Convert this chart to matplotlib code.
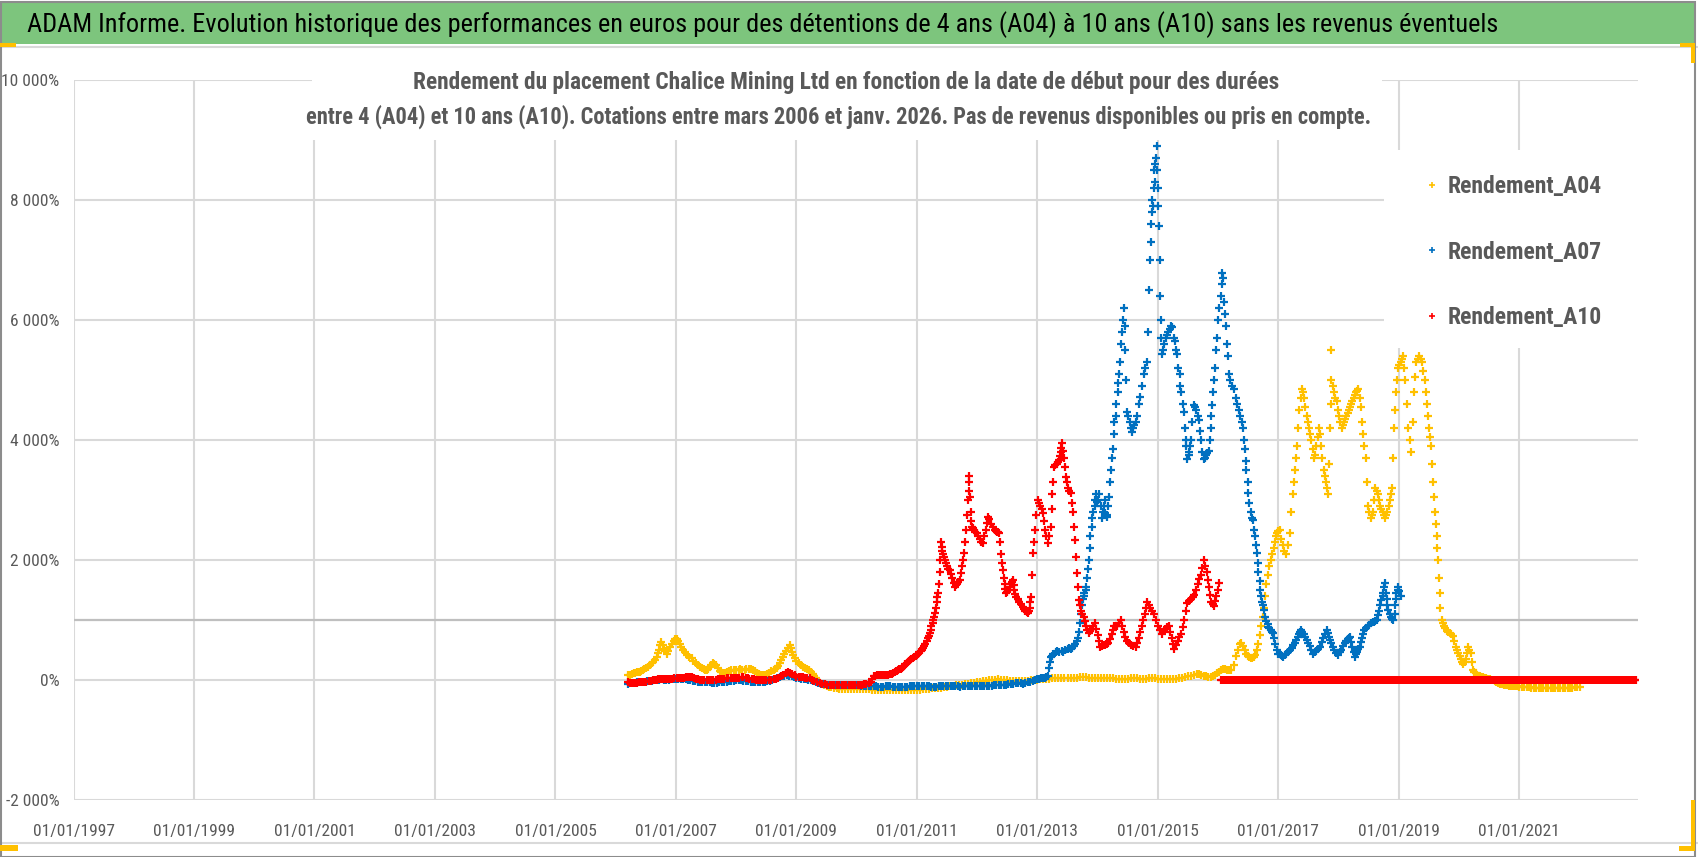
import numpy as np
import matplotlib.pyplot as plt
from matplotlib import font_manager
from matplotlib.patches import Rectangle
from matplotlib.ticker import FuncFormatter

# ---------------- data ----------------
a04_years = [2006.20, 2006.24, 2006.30, 2006.35, 2006.40, 2006.45, 2006.50, 2006.57, 2006.62, 2006.68,
             2006.72, 2006.76, 2006.80, 2006.85, 2006.90, 2006.96, 2007.01, 2007.06, 2007.12, 2007.19,
             2007.26, 2007.33, 2007.40, 2007.46, 2007.51, 2007.57, 2007.62, 2007.67, 2007.73, 2007.78,
             2007.85, 2007.92, 2008.00, 2008.07, 2008.14, 2008.21, 2008.28, 2008.35, 2008.42, 2008.48,
             2008.55, 2008.62, 2008.67, 2008.73, 2008.78, 2008.83, 2008.89, 2008.93, 2008.97, 2009.04,
             2009.11, 2009.18, 2009.25, 2009.30, 2009.35, 2009.42, 2009.50, 2009.58, 2009.67, 2009.75,
             2009.85, 2009.95, 2010.05, 2010.15, 2010.25, 2010.35, 2010.45, 2010.55, 2010.65, 2010.75,
             2010.85, 2010.95, 2011.05, 2011.15, 2011.25, 2011.35, 2011.45, 2011.55, 2011.65, 2011.75,
             2011.85, 2011.95, 2012.05, 2012.15, 2012.25, 2012.35, 2012.45, 2012.55, 2012.65, 2012.75,
             2012.85, 2012.95, 2013.05, 2013.15, 2013.25, 2013.35, 2013.45, 2013.55, 2013.65, 2013.75,
             2013.85, 2013.95, 2014.05, 2014.15, 2014.25, 2014.35, 2014.45, 2014.55, 2014.65, 2014.75,
             2014.85, 2014.95, 2015.05, 2015.15, 2015.25, 2015.35, 2015.45, 2015.55, 2015.65, 2015.72,
             2015.80, 2015.88, 2015.95, 2016.02, 2016.08, 2016.15, 2016.22, 2016.30, 2016.36, 2016.41,
             2016.47, 2016.52, 2016.57, 2016.62, 2016.67, 2016.72, 2016.76, 2016.80, 2016.85, 2016.89,
             2016.94, 2016.98, 2017.03, 2017.08, 2017.13, 2017.19, 2017.24, 2017.28, 2017.31, 2017.35,
             2017.39, 2017.43, 2017.47, 2017.51, 2017.55, 2017.59, 2017.63, 2017.67, 2017.71, 2017.75,
             2017.79, 2017.83, 2017.86, 2017.88, 2017.92, 2017.97, 2018.01, 2018.05, 2018.09, 2018.13,
             2018.17, 2018.21, 2018.25, 2018.29, 2018.33, 2018.37, 2018.41, 2018.45, 2018.49, 2018.53,
             2018.57, 2018.61, 2018.65, 2018.69, 2018.73, 2018.77, 2018.81, 2018.85, 2018.89, 2018.92,
             2018.95, 2018.99, 2019.03, 2019.07, 2019.11, 2019.16, 2019.21, 2019.25, 2019.29, 2019.33,
             2019.38, 2019.43, 2019.47, 2019.50, 2019.54, 2019.57, 2019.60, 2019.63, 2019.65, 2019.68,
             2019.71, 2019.75, 2019.80, 2019.85, 2019.90, 2019.95, 2019.99, 2020.03, 2020.07, 2020.11,
             2020.15, 2020.19, 2020.23, 2020.28, 2020.33, 2020.37, 2020.42, 2020.47, 2020.52, 2020.56,
             2020.62, 2020.68, 2020.74, 2020.80, 2020.86, 2020.92, 2021.00, 2021.08, 2021.16, 2021.24,
             2021.32, 2021.40, 2021.48, 2021.56, 2021.64, 2021.72, 2021.80, 2021.88, 2021.96, 2022.00]
a04_values = [80, 83, 110, 130, 140, 170, 200, 250, 300, 390,
              500, 640, 520, 440, 550, 650, 690, 600, 500, 420,
              360, 280, 220, 180, 170, 220, 280, 250, 150, 110,
              140, 160, 170, 180, 170, 190, 170, 120, 90, 80,
              120, 170, 200, 280, 380, 480, 580, 470, 360, 280,
              220, 180, 140, 60, 0, -60, -100, -120, -140, -150,
              -150, -150, -150, -155, -160, -160, -160, -165, -165, -167,
              -167, -167, -160, -150, -140, -130, -120, -100, -90, -80,
              -60, -50, -30, -10, 0, 10, 0, -10, -20, -20,
              -10, 0, 10, 20, 30, 40, 30, 30, 40, 50,
              40, 30, 30, 40, 30, 20, 20, 30, 30, 20,
              30, 30, 20, 10, 20, 30, 50, 70, 100, 90,
              60, 50, 80, 140, 190, 170, 160, 400, 600, 560,
              440, 380, 360, 420, 600, 900, 1200, 1600, 1900, 2100,
              2300, 2450, 2500, 2250, 2100, 2450, 3100, 3500, 3900, 4500,
              4850, 4700, 4400, 4200, 4000, 3700, 3900, 4200, 3900, 3500,
              3300, 3100, 4200, 5000, 4800, 4650, 4400, 4200, 4300, 4400,
              4500, 4600, 4700, 4800, 4850, 4550, 4100, 3700, 2900, 2700,
              2800, 3200, 3100, 2900, 2800, 2700, 2800, 3000, 3200, 4200,
              4800, 5200, 5300, 5400, 5000, 4200, 3800, 4800, 5300, 5400,
              5300, 5000, 4600, 4200, 3900, 3300, 2800, 2400, 2000, 1450,
              1000, 900, 820, 780, 740, 550, 450, 350, 260, 350,
              550, 450, 170, 110, 70, 50, 40, 20, 10, 0,
              -30, -60, -80, -90, -100, -105, -110, -115, -120, -130,
              -135, -140, -140, -140, -140, -135, -130, -125, -120, -115]
# second reading pass (points between the first ones)
a04_years_2 = [2006.27, 2006.32, 2006.37, 2006.42, 2006.47, 2006.53, 2006.60, 2006.65, 2006.70, 2006.74,
               2006.78, 2006.82, 2006.87, 2006.93, 2006.98, 2007.03, 2007.09, 2007.15, 2007.22, 2007.29,
               2007.36, 2007.43, 2007.48, 2007.54, 2007.59, 2007.64, 2007.70, 2007.75, 2007.81, 2007.88,
               2007.96, 2008.04, 2008.10, 2008.17, 2008.24, 2008.31, 2008.38, 2008.45, 2008.51, 2008.58,
               2008.65, 2008.70, 2008.75, 2008.80, 2008.86, 2008.91, 2008.95, 2009.00, 2009.07, 2009.14,
               2009.21, 2009.28, 2009.32, 2009.38, 2009.46, 2009.54, 2009.62, 2009.71, 2009.80, 2009.90,
               2010.00, 2010.10, 2010.20, 2010.30, 2010.40, 2010.50, 2010.60, 2010.70, 2010.80, 2010.90,
               2011.00, 2011.10, 2011.20, 2011.30, 2011.40, 2011.50, 2011.60, 2011.70, 2011.80, 2011.90,
               2012.00, 2012.10, 2012.20, 2012.30, 2012.40, 2012.50, 2012.60, 2012.70, 2012.80, 2012.90,
               2013.00, 2013.10, 2013.20, 2013.30, 2013.40, 2013.50, 2013.60, 2013.70, 2013.80, 2013.90,
               2014.00, 2014.10, 2014.20, 2014.30, 2014.40, 2014.50, 2014.60, 2014.70, 2014.80, 2014.90,
               2015.00, 2015.10, 2015.20, 2015.30, 2015.40, 2015.50, 2015.60, 2015.68, 2015.76, 2015.84,
               2015.91, 2015.98, 2016.05, 2016.12, 2016.18, 2016.26, 2016.33, 2016.38, 2016.44, 2016.49,
               2016.55, 2016.60, 2016.64, 2016.70, 2016.74, 2016.78, 2016.82, 2016.87, 2016.92, 2016.96,
               2017.00, 2017.05, 2017.10, 2017.16, 2017.21, 2017.26, 2017.30, 2017.33, 2017.37, 2017.41,
               2017.45, 2017.49, 2017.53, 2017.57, 2017.61, 2017.65, 2017.69, 2017.73, 2017.77, 2017.81,
               2017.84, 2017.87, 2017.87, 2017.90, 2017.94, 2017.99, 2018.03, 2018.07, 2018.11, 2018.15,
               2018.19, 2018.23, 2018.27, 2018.31, 2018.35, 2018.39, 2018.43, 2018.47, 2018.51, 2018.55,
               2018.59, 2018.63, 2018.67, 2018.71, 2018.75, 2018.79, 2018.83, 2018.87, 2018.90, 2018.94,
               2018.97, 2019.01, 2019.05, 2019.09, 2019.13, 2019.18, 2019.23, 2019.27, 2019.31, 2019.36,
               2019.40, 2019.45, 2019.48, 2019.52, 2019.55, 2019.58, 2019.61, 2019.64, 2019.66, 2019.69,
               2019.73, 2019.77, 2019.82, 2019.87, 2019.92, 2019.97, 2020.01, 2020.05, 2020.09, 2020.13,
               2020.17, 2020.21, 2020.25, 2020.30, 2020.35, 2020.40, 2020.45, 2020.50, 2020.54, 2020.59,
               2020.65, 2020.71, 2020.77, 2020.83, 2020.89, 2020.96, 2021.04, 2021.12, 2021.20, 2021.28,
               2021.36, 2021.44, 2021.52, 2021.60, 2021.68, 2021.76, 2021.84, 2021.92]
a04_values_2 = [95, 120, 135, 155, 185, 220, 280, 340, 450, 580,
                580, 480, 480, 600, 680, 650, 550, 460, 390, 320,
                250, 200, 175, 190, 250, 270, 200, 130, 120, 150,
                165, 175, 175, 180, 180, 145, 105, 85, 100, 145,
                185, 240, 330, 430, 530, 530, 410, 320, 250, 200,
                160, 100, 30, -30, -80, -110, -130, -145, -150, -150,
                -150, -152, -158, -160, -160, -162, -165, -166, -167, -167,
                -163, -155, -145, -135, -125, -110, -95, -85, -70, -55,
                -40, -20, -5, 5, 5, -5, -15, -20, -15, -5,
                5, 15, 25, 35, 35, 30, 35, 45, 45, 35,
                30, 35, 35, 25, 20, 25, 30, 25, 25, 30,
                25, 15, 15, 25, 40, 60, 85, 95, 75, 55,
                65, 110, 170, 180, 165, 250, 500, 620, 500, 400,
                370, 380, 500, 750, 1050, 1400, 1750, 2000, 2200, 2400,
                2480, 2350, 2150, 2250, 2800, 3300, 3700, 4200, 4700, 4800,
                4550, 4300, 4100, 3850, 3750, 4050, 4100, 3700, 3400, 3200,
                3600, 4600, 5500, 4900, 4700, 4500, 4300, 4250, 4350, 4450,
                4550, 4650, 4750, 4820, 4700, 4300, 3900, 3300, 2800, 2750,
                3000, 3150, 3000, 2850, 2750, 2750, 2900, 3100, 3700, 4500,
                5000, 5250, 5350, 5200, 4600, 4000, 4300, 5050, 5350, 5350,
                5150, 4800, 4400, 4050, 3600, 3050, 2600, 2200, 1700, 1200,
                950, 860, 800, 760, 650, 500, 400, 300, 300, 450,
                500, 300, 140, 90, 60, 45, 30, 15, 5, -15,
                -45, -70, -85, -95, -102, -108, -112, -118, -125, -132,
                -138, -140, -140, -140, -138, -132, -128, -122]

a07_years = [2006.20, 2006.28, 2006.36, 2006.44, 2006.52, 2006.60, 2006.68, 2006.76, 2006.84, 2006.92,
             2007.00, 2007.08, 2007.16, 2007.24, 2007.32, 2007.40, 2007.48, 2007.56, 2007.64, 2007.72,
             2007.80, 2007.88, 2007.96, 2008.04, 2008.12, 2008.20, 2008.28, 2008.36, 2008.44, 2008.52,
             2008.60, 2008.68, 2008.76, 2008.84, 2008.92, 2009.00, 2009.08, 2009.16, 2009.24, 2009.32,
             2009.40, 2009.48, 2009.56, 2009.64, 2009.72, 2009.80, 2009.88, 2009.96, 2010.04, 2010.12,
             2010.20, 2010.28, 2010.36, 2010.44, 2010.52, 2010.60, 2010.68, 2010.76, 2010.84, 2010.92,
             2011.00, 2011.08, 2011.16, 2011.24, 2011.32, 2011.40, 2011.48, 2011.56, 2011.64, 2011.72,
             2011.80, 2011.88, 2011.96, 2012.04, 2012.12, 2012.20, 2012.28, 2012.36, 2012.44, 2012.52,
             2012.60, 2012.68, 2012.76, 2012.84, 2012.92, 2013.00, 2013.06, 2013.12, 2013.18, 2013.22,
             2013.26, 2013.31, 2013.36, 2013.41, 2013.46, 2013.51, 2013.56, 2013.61, 2013.65, 2013.69,
             2013.72, 2013.75, 2013.78, 2013.81, 2013.84, 2013.87, 2013.90, 2013.93, 2013.96, 2013.99,
             2014.03, 2014.07, 2014.10, 2014.13, 2014.16, 2014.19, 2014.22, 2014.25, 2014.28, 2014.31,
             2014.34, 2014.37, 2014.40, 2014.43, 2014.46, 2014.49, 2014.53, 2014.57, 2014.61, 2014.66,
             2014.71, 2014.77, 2014.82, 2014.86, 2014.88, 2014.91, 2014.93, 2014.96, 2014.98, 2015.00,
             2015.02, 2015.04, 2015.07, 2015.11, 2015.15, 2015.20, 2015.24, 2015.28, 2015.32, 2015.36,
             2015.39, 2015.43, 2015.46, 2015.49, 2015.52, 2015.55, 2015.60, 2015.64, 2015.68, 2015.72,
             2015.76, 2015.80, 2015.85, 2015.88, 2015.90, 2015.93, 2015.96, 2016.00, 2016.04, 2016.07,
             2016.10, 2016.13, 2016.16, 2016.20, 2016.26, 2016.32, 2016.37, 2016.41, 2016.44, 2016.47,
             2016.50, 2016.54, 2016.58, 2016.61, 2016.64, 2016.67, 2016.70, 2016.73, 2016.76, 2016.80,
             2016.83, 2016.87, 2016.91, 2016.95, 2017.00, 2017.04, 2017.08, 2017.13, 2017.19, 2017.24,
             2017.30, 2017.34, 2017.38, 2017.42, 2017.47, 2017.52, 2017.58, 2017.63, 2017.69, 2017.74,
             2017.80, 2017.84, 2017.88, 2017.93, 2017.99, 2018.04, 2018.10, 2018.15, 2018.19, 2018.23,
             2018.27, 2018.31, 2018.35, 2018.39, 2018.43, 2018.48, 2018.54, 2018.59, 2018.63, 2018.67,
             2018.71, 2018.74, 2018.77, 2018.80, 2018.82, 2018.87, 2018.91, 2018.94, 2018.96, 2018.99,
             2019.03]
a07_values = [-60, -50, -40, -30, -20, -10, 0, 10, 0, 10,
              20, 10, 10, 0, -20, -30, -30, -40, -50, -40,
              -30, -20, -10, 0, -10, -20, -30, -40, -30, -20,
              0, 30, 60, 80, 60, 40, 20, 10, 0, -30,
              -60, -70, -80, -85, -90, -90, -90, -90, -90, -95,
              -100, -105, -110, -110, -105, -110, -115, -110, -110, -105,
              -100, -100, -105, -110, -110, -100, -95, -100, -105, -110,
              -100, -100, -95, -100, -100, -95, -90, -85, -80, -70,
              -60, -50, -60, -40, -10, 10, 30, 40, 60, 380,
              430, 460, 470, 490, 500, 510, 520, 560, 650, 800,
              1100, 1350, 1450, 1550, 1850, 2200, 2550, 2800, 3000, 2970,
              3100, 2700, 2900, 2780, 2714, 3050, 3500, 3850, 4300, 4600,
              4950, 5300, 5800, 6200, 5500, 4460, 4300, 4140, 4250, 4400,
              4720, 5100, 5300, 6500, 7300, 7800, 8200, 8600, 8900, 8200,
              7560, 6400, 5430, 5600, 5750, 5850, 5880, 5650, 5430, 5100,
              4800, 4460, 4000, 3685, 3800, 4000, 4590, 4500, 4330, 4000,
              3685, 3750, 3814, 4200, 4590, 5000, 5496, 6000, 6400, 6790,
              6300, 5900, 5400, 5000, 4850, 4600, 4400, 4200, 3850, 3500,
              3110, 2800, 2670, 2400, 2110, 1800, 1500, 1300, 1170, 980,
              890, 830, 780, 600, 440, 420, 390, 430, 500, 580,
              670, 760, 830, 760, 670, 560, 440, 480, 556, 700,
              833, 720, 611, 500, 417, 500, 611, 680, 722, 550,
              389, 470, 556, 700, 833, 900, 944, 970, 1000, 1150,
              1333, 1450, 1611, 1350, 1167, 1050, 1000, 1250, 1444, 1556,
              1400]
a07_years_2 = [2006.24, 2006.32, 2006.40, 2006.48, 2006.56, 2006.64, 2006.72, 2006.80, 2006.88, 2006.96,
               2007.04, 2007.12, 2007.20, 2007.28, 2007.36, 2007.44, 2007.52, 2007.60, 2007.68, 2007.76,
               2007.84, 2007.92, 2008.00, 2008.08, 2008.16, 2008.24, 2008.32, 2008.40, 2008.48, 2008.56,
               2008.64, 2008.72, 2008.80, 2008.88, 2008.96, 2009.04, 2009.12, 2009.20, 2009.28, 2009.36,
               2009.44, 2009.52, 2009.60, 2009.68, 2009.76, 2009.84, 2009.92, 2010.00, 2010.08, 2010.16,
               2010.24, 2010.32, 2010.40, 2010.48, 2010.56, 2010.64, 2010.72, 2010.80, 2010.88, 2010.96,
               2011.04, 2011.12, 2011.20, 2011.28, 2011.36, 2011.44, 2011.52, 2011.60, 2011.68, 2011.76,
               2011.84, 2011.92, 2012.00, 2012.08, 2012.16, 2012.24, 2012.32, 2012.40, 2012.48, 2012.56,
               2012.64, 2012.72, 2012.80, 2012.88, 2012.96, 2013.03, 2013.09, 2013.15, 2013.20, 2013.21,
               2013.24, 2013.33, 2013.43, 2013.53, 2013.58, 2013.63, 2013.67, 2013.70, 2013.74, 2013.77,
               2013.80, 2013.83, 2013.86, 2013.88, 2013.91, 2013.95, 2013.97, 2014.01, 2014.05, 2014.09,
               2014.12, 2014.15, 2014.18, 2014.21, 2014.24, 2014.27, 2014.30, 2014.33, 2014.36, 2014.39,
               2014.42, 2014.45, 2014.47, 2014.51, 2014.55, 2014.59, 2014.63, 2014.68, 2014.74, 2014.79,
               2014.84, 2014.87, 2014.89, 2014.90, 2014.92, 2014.94, 2014.95, 2014.97, 2014.99, 2015.01,
               2015.03, 2015.05, 2015.06, 2015.09, 2015.13, 2015.17, 2015.22, 2015.26, 2015.30, 2015.34,
               2015.37, 2015.41, 2015.45, 2015.47, 2015.51, 2015.53, 2015.57, 2015.62, 2015.66, 2015.70,
               2015.74, 2015.78, 2015.82, 2015.87, 2015.89, 2015.92, 2015.95, 2015.98, 2016.02, 2016.06,
               2016.08, 2016.11, 2016.15, 2016.18, 2016.23, 2016.29, 2016.35, 2016.39, 2016.43, 2016.46,
               2016.49, 2016.52, 2016.56, 2016.60, 2016.63, 2016.66, 2016.69, 2016.72, 2016.75, 2016.78,
               2016.82, 2016.85, 2016.89, 2016.93, 2016.98, 2017.02, 2017.06, 2017.11, 2017.16, 2017.22,
               2017.27, 2017.32, 2017.36, 2017.40, 2017.45, 2017.50, 2017.55, 2017.61, 2017.66, 2017.72,
               2017.77, 2017.82, 2017.86, 2017.91, 2017.96, 2018.02, 2018.07, 2018.12, 2018.17, 2018.21,
               2018.25, 2018.29, 2018.33, 2018.37, 2018.41, 2018.46, 2018.51, 2018.57, 2018.61, 2018.65,
               2018.69, 2018.73, 2018.76, 2018.79, 2018.81, 2018.85, 2018.89, 2018.93, 2018.95, 2018.98,
               2019.01]
a07_values_2 = [-55, -45, -35, -25, -15, -5, 5, 5, 5, 15,
                15, 10, 5, -10, -25, -30, -35, -45, -45, -35,
                -25, -15, -5, -5, -15, -25, -35, -35, -25, -10,
                15, 45, 70, 70, 50, 30, 15, 5, -15, -45,
                -65, -75, -82, -88, -90, -90, -90, -90, -92, -97,
                -102, -108, -110, -108, -107, -112, -112, -110, -107, -102,
                -100, -102, -108, -110, -105, -97, -97, -102, -107, -105,
                -100, -97, -97, -100, -97, -92, -87, -82, -75, -65,
                -55, -55, -50, -25, 0, 20, 35, 50, 200, 300,
                400, 480, 470, 530, 540, 600, 700, 950, 1250, 1400,
                1500, 1700, 2000, 2400, 2700, 2900, 3100, 3000, 2900, 2800,
                3000, 2750, 2900, 3300, 3700, 4100, 4400, 4800, 5100, 5600,
                6000, 5900, 5000, 4400, 4200, 4200, 4300, 4600, 4900, 5200,
                5800, 7000, 7600, 8000, 7900, 8500, 8300, 8700, 8500, 7900,
                7000, 6000, 5700, 5500, 5700, 5800, 5900, 5700, 5500, 5200,
                4900, 4600, 4200, 3900, 3750, 3900, 4300, 4550, 4400, 4150,
                3800, 3700, 3780, 4000, 4400, 4800, 5200, 5700, 6200, 6600,
                6700, 6100, 5600, 5100, 4900, 4700, 4500, 4300, 4000, 3650,
                3300, 2950, 2700, 2500, 2250, 1950, 1650, 1400, 1250, 1050,
                930, 860, 800, 700, 500, 430, 400, 410, 460, 540,
                620, 720, 800, 800, 720, 610, 500, 460, 520, 630,
                770, 780, 660, 550, 450, 460, 560, 650, 700, 640,
                470, 430, 510, 630, 770, 870, 920, 960, 990, 1080,
                1250, 1400, 1550, 1450, 1250, 1100, 1020, 1100, 1350, 1500,
                1480]

a10_years = [2006.20, 2006.26, 2006.32, 2006.38, 2006.45, 2006.51, 2006.58, 2006.65, 2006.70, 2006.76,
             2006.82, 2006.88, 2006.94, 2007.01, 2007.07, 2007.13, 2007.20, 2007.26, 2007.33, 2007.40,
             2007.47, 2007.55, 2007.62, 2007.70, 2007.77, 2007.84, 2007.91, 2007.98, 2008.05, 2008.12,
             2008.19, 2008.26, 2008.33, 2008.39, 2008.46, 2008.54, 2008.62, 2008.70, 2008.78, 2008.86,
             2008.93, 2009.00, 2009.07, 2009.14, 2009.22, 2009.30, 2009.39, 2009.47, 2009.55, 2009.63,
             2009.71, 2009.79, 2009.87, 2009.94, 2010.02, 2010.09, 2010.16, 2010.23, 2010.28, 2010.33,
             2010.39, 2010.45, 2010.52, 2010.57, 2010.61, 2010.65, 2010.69, 2010.73, 2010.77, 2010.81,
             2010.85, 2010.89, 2010.94, 2010.98, 2011.02, 2011.06, 2011.10, 2011.14, 2011.18, 2011.21,
             2011.24, 2011.27, 2011.30, 2011.33, 2011.35, 2011.38, 2011.41, 2011.44, 2011.46, 2011.50,
             2011.55, 2011.59, 2011.63, 2011.67, 2011.71, 2011.75, 2011.79, 2011.82, 2011.85, 2011.87,
             2011.89, 2011.91, 2011.95, 2011.99, 2012.04, 2012.10, 2012.14, 2012.18, 2012.23, 2012.29,
             2012.33, 2012.37, 2012.40, 2012.43, 2012.46, 2012.48, 2012.52, 2012.56, 2012.59, 2012.62,
             2012.65, 2012.70, 2012.76, 2012.80, 2012.84, 2012.87, 2012.90, 2012.93, 2012.96, 2013.01,
             2013.05, 2013.09, 2013.13, 2013.17, 2013.22, 2013.25, 2013.28, 2013.32, 2013.36, 2013.39,
             2013.41, 2013.44, 2013.47, 2013.51, 2013.55, 2013.59, 2013.63, 2013.66, 2013.69, 2013.72,
             2013.77, 2013.81, 2013.85, 2013.90, 2013.96, 2014.00, 2014.04, 2014.10, 2014.14, 2014.18,
             2014.24, 2014.28, 2014.32, 2014.38, 2014.43, 2014.49, 2014.56, 2014.63, 2014.68, 2014.74,
             2014.78, 2014.82, 2014.87, 2014.93, 2015.00, 2015.07, 2015.12, 2015.18, 2015.23, 2015.27,
             2015.33, 2015.38, 2015.44, 2015.49, 2015.55, 2015.60, 2015.66, 2015.71, 2015.76, 2015.81,
             2015.85, 2015.89, 2015.93, 2015.97, 2016.01]
a10_values = [-40, -56, -50, -40, -30, -28, -10, 0, 10, 11,
              20, 20, 25, 28, 35, 40, 50, 56, 20, 0,
              0, 5, 0, 10, 20, 28, 35, 40, 40, 44,
              30, 20, 5, 0, 0, 5, 11, 40, 90, 139,
              100, 56, 50, 40, 28, -20, -56, -70, -80, -83,
              -85, -85, -83, -83, -80, -75, -67, -30, 60, 80,
              83, 85, 90, 100, 111, 150, 167, 190, 222, 260,
              300, 330, 361, 400, 440, 480, 528, 600, 700, 778,
              900, 1000, 1111, 1300, 1444, 1800, 2222, 2100, 2000, 1900,
              1833, 1700, 1556, 1600, 1667, 1900, 2111, 2500, 3000, 3300,
              2800, 2556, 2500, 2444, 2350, 2278, 2500, 2722, 2600, 2500,
              2470, 2444, 2100, 1833, 1600, 1444, 1500, 1600, 1667, 1500,
              1389, 1300, 1222, 1150, 1111, 1200, 1389, 2111, 2500, 3000,
              2900, 2778, 2500, 2278, 2556, 3100, 3556, 3600, 3667, 3800,
              3944, 3700, 3389, 3200, 3111, 2800, 2333, 1778, 1333, 1150,
              1056, 900, 778, 850, 944, 750, 556, 579, 600, 611,
              773, 900, 900, 1000, 800, 644, 580, 547, 700, 902,
              1100, 1300, 1200, 1097, 900, 773, 850, 902, 700, 514,
              650, 773, 1000, 1291, 1350, 1420, 1600, 1744, 2000, 1800,
              1549, 1300, 1226, 1400, 1614]
a10_years_2 = [2006.23, 2006.29, 2006.35, 2006.42, 2006.48, 2006.55, 2006.62, 2006.68, 2006.73, 2006.79,
               2006.85, 2006.91, 2006.97, 2007.04, 2007.10, 2007.17, 2007.23, 2007.30, 2007.37, 2007.44,
               2007.51, 2007.58, 2007.66, 2007.73, 2007.80, 2007.87, 2007.95, 2008.02, 2008.09, 2008.16,
               2008.22, 2008.30, 2008.36, 2008.43, 2008.50, 2008.58, 2008.66, 2008.74, 2008.82, 2008.90,
               2008.97, 2009.04, 2009.11, 2009.18, 2009.26, 2009.35, 2009.43, 2009.51, 2009.59, 2009.67,
               2009.75, 2009.83, 2009.91, 2009.98, 2010.06, 2010.12, 2010.20, 2010.26, 2010.30, 2010.36,
               2010.42, 2010.48, 2010.55, 2010.59, 2010.63, 2010.67, 2010.71, 2010.75, 2010.79, 2010.83,
               2010.87, 2010.91, 2010.96, 2011.00, 2011.04, 2011.08, 2011.12, 2011.16, 2011.20, 2011.23,
               2011.26, 2011.29, 2011.32, 2011.34, 2011.37, 2011.39, 2011.40, 2011.42, 2011.45, 2011.48,
               2011.52, 2011.57, 2011.61, 2011.65, 2011.69, 2011.73, 2011.77, 2011.80, 2011.83, 2011.86,
               2011.86, 2011.88, 2011.90, 2011.93, 2011.97, 2012.01, 2012.07, 2012.12, 2012.16, 2012.20,
               2012.26, 2012.31, 2012.35, 2012.38, 2012.41, 2012.445, 2012.47, 2012.50, 2012.54, 2012.575,
               2012.605, 2012.635, 2012.675, 2012.73, 2012.78, 2012.82, 2012.855, 2012.885, 2012.915, 2012.945,
               2012.985, 2013.03, 2013.07, 2013.11, 2013.15, 2013.195, 2013.235, 2013.265, 2013.30, 2013.34,
               2013.375, 2013.40, 2013.425, 2013.455, 2013.49, 2013.53, 2013.57, 2013.61, 2013.645, 2013.675,
               2013.705, 2013.745, 2013.79, 2013.83, 2013.875, 2013.93, 2013.98, 2014.02, 2014.07, 2014.12,
               2014.16, 2014.21, 2014.26, 2014.30, 2014.35, 2014.405, 2014.46, 2014.525, 2014.595, 2014.655,
               2014.71, 2014.76, 2014.80, 2014.845, 2014.90, 2014.965, 2015.035, 2015.095, 2015.15, 2015.205,
               2015.25, 2015.30, 2015.355, 2015.41, 2015.465, 2015.52, 2015.575, 2015.63, 2015.685, 2015.735,
               2015.785, 2015.83, 2015.87, 2015.91, 2015.95, 2015.99]
a10_values_2 = [-50, -53, -45, -35, -29, -20, -5, 5, 10, 15,
                20, 22, 27, 32, 38, 45, 53, 38, 10, 0,
                2, 3, 5, 15, 24, 32, 38, 40, 42, 37,
                25, 12, 2, 0, 2, 8, 25, 65, 115, 120,
                78, 53, 45, 34, 5, -40, -63, -75, -82, -84,
                -85, -84, -83, -82, -78, -72, -50, 20, 70, 82,
                84, 87, 95, 105, 130, 158, 178, 205, 240, 280,
                315, 345, 380, 420, 460, 505, 560, 650, 740, 840,
                950, 1050, 1200, 1380, 1600, 2000, 2300, 2150, 2050, 1950,
                1850, 1760, 1620, 1580, 1630, 1780, 2000, 2300, 2750, 3150,
                3400, 3050, 2650, 2530, 2470, 2400, 2300, 2400, 2620, 2680,
                2550, 2480, 2460, 2300, 1950, 1700, 1520, 1470, 1550, 1640,
                1580, 1440, 1350, 1260, 1180, 1130, 1150, 1300, 1750, 2300,
                2750, 2950, 2850, 2650, 2400, 2400, 2850, 3300, 3580, 3630,
                3730, 3870, 3820, 3550, 3300, 3150, 2950, 2550, 2050, 1550,
                1250, 1100, 980, 840, 810, 900, 850, 650, 565, 590,
                605, 690, 840, 900, 950, 900, 720, 610, 560, 620,
                800, 1000, 1200, 1250, 1150, 1000, 830, 810, 880, 800,
                600, 580, 710, 880, 1150, 1320, 1380, 1500, 1680, 1870,
                1900, 1670, 1420, 1260, 1310, 1500]
# after 2016 the 10-year return is shown as 0 % up to the end of the axis
a10_flat_years = np.arange(2016.04, 2022.96, 0.025)
a10_flat_values = np.zeros(len(a10_flat_years))

series_names = ['Rendement_A04', 'Rendement_A07', 'Rendement_A10']
series_colors = ['#FFC000', '#0070C0', '#FF0000']

x_ticks = list(range(1997, 2022, 2))
x_labels = ['01/01/%d' % y for y in x_ticks]
y_ticks = list(range(-2000, 10001, 2000))
ref_line = 1000

title = ("ADAM Informe. Evolution historique des performances en euros pour des détentions "
         "de 4 ans (A04) à 10 ans (A10) sans les revenus éventuels")
sub1 = "Rendement du placement Chalice Mining Ltd en fonction de la date de début pour des durées"
sub2 = ("entre 4 (A04) et 10 ans (A10). Cotations entre mars 2006 et janv. 2026. "
        "Pas de revenus disponibles ou pris en compte.")

# ---------------- fonts ----------------
names = {f.name for f in font_manager.fontManager.ttflist}
if 'Roboto Condensed' in names:
    font, k = 'Roboto Condensed', 1.0
elif 'Liberation Sans Narrow' in names:
    font, k = 'Liberation Sans Narrow', 1.0
else:
    font, k = 'Liberation Sans', 0.82
plt.rcParams['font.family'] = [font, 'DejaVu Sans']

W, H = 1698, 857
fig = plt.figure(figsize=(W / 100, H / 100), dpi=100)
fig.patch.set_facecolor('white')
ax = fig.add_axes([73.5 / W, 1 - 800 / H, (1638 - 73.5) / W, (800 - 80) / H])
ax.set_facecolor('white')

gray = '#595959'
grid = '#D9D9D9'
mk = dict(ls='none', marker='+', ms=6, mew=1.6, zorder=3)

ax.plot(a04_years + a04_years_2, a04_values + a04_values_2, color=series_colors[0], **mk)
ax.plot(a07_years + a07_years_2, a07_values + a07_values_2, color=series_colors[1], **mk)
ax.plot(a10_years + a10_years_2, a10_values + a10_values_2, color=series_colors[2], **mk)
ax.plot(a10_flat_years, a10_flat_values, color=series_colors[2], **mk)

ax.axhline(ref_line, color='#BFBFBF', lw=1.6, zorder=1)

ax.set_xlim(1997.0, 2022.97)
ax.set_ylim(-2000, 10000)
ax.set_xticks(x_ticks)
ax.set_xticklabels(x_labels)
ax.set_yticks(y_ticks)
ax.yaxis.set_major_formatter(FuncFormatter(lambda v, p: f"{v:,.0f}".replace(',', ' ') + '%'))
ax.tick_params(length=0, labelsize=12.5 * k, labelcolor=gray)
ax.tick_params(axis='y', pad=10)
ax.tick_params(axis='x', pad=17)
ax.grid(True, color=grid, lw=1.5)
ax.set_axisbelow(True)
for s in ax.spines.values():
    s.set_visible(False)

# white boxes behind subtitle and legend (hide the grid like the original)
for (x0, y0, x1, y1) in [(312, 60, 1382, 140), (1384, 150, 1640, 348)]:
    ax.add_patch(Rectangle((x0 / W, 1 - y1 / H), (x1 - x0) / W, (y1 - y0) / H,
                           transform=fig.transFigure, facecolor='white', edgecolor='none',
                           zorder=1.5, clip_on=False))

# legend
handles = [plt.Line2D([], [], ls='none', marker='+', ms=5, mew=1.2, color=c) for c in series_colors]
leg = ax.legend(handles, series_names, loc='upper left', bbox_to_anchor=(1425 / W, 1 - 175 / H),
                bbox_transform=fig.transFigure, frameon=False, fontsize=17 * k,
                handlelength=0.6, handletextpad=0.35, labelspacing=1.8, borderpad=0, borderaxespad=0)
for t in leg.get_texts():
    t.set_color(gray)
    t.set_fontweight('bold')

# header band and frame
fig.patches.append(Rectangle((2 / W, 1 - 44 / H), (W - 6) / W, 42 / H, transform=fig.transFigure,
                             facecolor='#7DC57D', edgecolor='none', zorder=0))
fig.lines.append(plt.Line2D([0, 1], [1 - 47 / H, 1 - 47 / H], transform=fig.transFigure,
                            color='#D9D9D9', lw=1.5))
fig.lines.append(plt.Line2D([0, 1], [1 - 843 / H, 1 - 843 / H], transform=fig.transFigure,
                            color='#D9D9D9', lw=1.5))
fig.patches.append(Rectangle((0.5 / W, 0.5 / H), (W - 4) / W, (H - 2) / H, transform=fig.transFigure,
                             facecolor='none', edgecolor='#8C8C8C', lw=1.5, zorder=5))
for (x0, y0, x1, y1) in [(0, 43, 16, 47), (1680, 43, 1695, 47), (1691, 43, 1695, 63),
                         (0, 845, 18, 851), (1679, 846, 1695, 851), (1691, 800, 1695, 851)]:
    fig.patches.append(Rectangle((x0 / W, 1 - y1 / H), (x1 - x0) / W, (y1 - y0) / H,
                                 transform=fig.transFigure, facecolor='#FFC000', edgecolor='none', zorder=6))

t0 = fig.text(763 / W, 1 - 25 / H, title, ha='center', va='center', fontsize=20, color='black')
t1 = fig.text(846 / W, 1 - 82 / H, sub1, ha='center', va='center', fontsize=16, color=gray,
              fontweight='bold', zorder=4)
t2 = fig.text(839 / W, 1 - 117 / H, sub2, ha='center', va='center', fontsize=16, color=gray,
              fontweight='bold', zorder=4)

# fit the header texts to the widths seen in the picture
fig.canvas.draw()
r = fig.canvas.get_renderer()
for t, target in [(t0, 1469), (t1, 866), (t2, 1068)]:
    w = t.get_window_extent(r).width
    t.set_fontsize(t.get_fontsize() * target / w)

fig.savefig('out.png', dpi=100)
